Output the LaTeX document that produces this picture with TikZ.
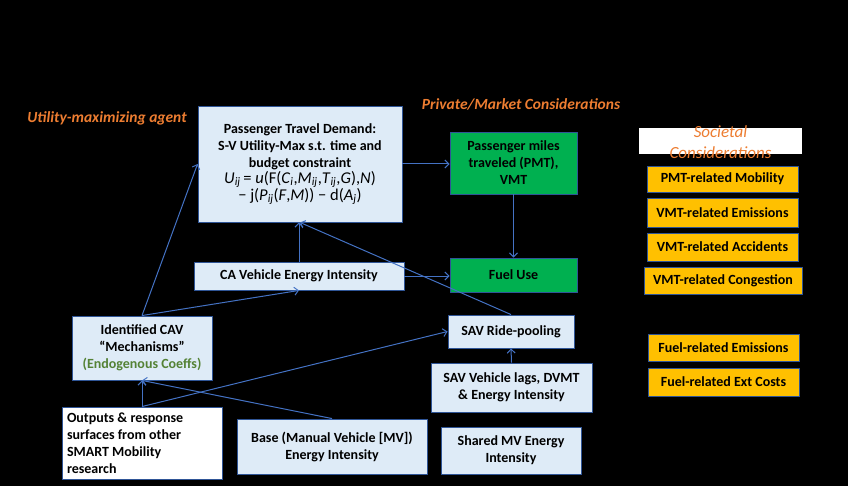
\documentclass[tikz,border=0pt]{standalone}
\usepackage{fontspec}
\setmainfont{Carlito}
\usetikzlibrary{arrows.meta}
\definecolor{bxfill}{HTML}{DEEBF7}
\definecolor{bxline}{HTML}{2F5597}
\definecolor{arr}{HTML}{4472C4}
\definecolor{grn}{HTML}{00B050}
\definecolor{org}{HTML}{FFC000}
\definecolor{otxt}{HTML}{ED7D31}
\definecolor{dgrn}{HTML}{548235}
\tikzset{
  bx/.style={draw=bxline, fill=bxfill, line width=0.9pt, inner sep=0pt, align=center,
    font=\fontsize{14}{17}\selectfont\bfseries, anchor=center},
  gbx/.style={bx, fill=grn},
  obx/.style={bx, fill=org},
  wbx/.style={bx, fill=white},
  otx/.style={text=otxt, font=\fontsize{15.5}{18}\selectfont\bfseries\itshape, inner sep=0pt},
  con/.style={draw=arr, line width=1pt, -{Straight Barb[length=4pt,width=8pt,line width=1pt]}}
}
\newcommand{\sbx}[1]{\textsubscript{\itshape #1}}
\begin{document}
\begin{tikzpicture}[x=1pt,y=-1pt]
\fill[black] (0,0) rectangle (848,486);
\useasboundingbox (0,0) rectangle (848,486);

\node[otx] (ua) at (107,118) {Utility-maximizing agent};
\node[otx] (pm) at (521,104) {Private/Market Considerations};

\node[bx, minimum width=204, minimum height=116] (ptd) at (300,164)
 {Passenger Travel Demand:\\S-V Utility-Max s.t. time and\\budget constraint\\[-1pt]
  {\fontsize{16.5}{19}\selectfont\mdseries \textit{U}\sbx{ij}\,= \textit{u}(F(\textit{C}\sbx{i},\textit{M}\sbx{ij},\textit{T}\sbx{ij},\textit{G}),\textit{N})}\\
  {\fontsize{16.5}{19}\selectfont\mdseries − j(\textit{P}\sbx{ij}(\textit{F},\textit{M})) − d(\textit{A}\sbx{j})}};

\node[gbx, minimum width=127, minimum height=62] (pmt) at (513.5,163) {Passenger miles\\traveled (PMT),\\VMT};
\node[gbx, minimum width=127, minimum height=34] (fuel) at (513.5,275) {Fuel Use};

\node[wbx, draw=none, minimum width=163, minimum height=26] (soc) at (720.5,141) {};
\node[text=otxt, font=\fontsize{17}{21}\selectfont\itshape, align=center, inner sep=0pt] (soct) at (720.5,142) {Societal\\Considerations};

\node[obx, minimum width=151, minimum height=26] (pmtm) at (722.5,179) {PMT-related Mobility};
\node[obx, minimum width=151, minimum height=29] (vmte) at (722.5,212.5) {VMT-related Emissions};
\node[obx, minimum width=151, minimum height=28] (vmta) at (722.5,247) {VMT-related Accidents};
\node[obx, minimum width=158, minimum height=27] (vmtc) at (723,280.5) {VMT-related Congestion};
\node[obx, minimum width=151, minimum height=27] (fre) at (723.5,347.5) {Fuel-related Emissions};
\node[obx, minimum width=151, minimum height=28] (frc) at (723.5,382) {Fuel-related Ext Costs};

\node[bx, minimum width=210, minimum height=28] (ca) at (299,276) {CA Vehicle Energy Intensity};
\node[bx, minimum width=140, minimum height=64] (cav) at (142,348) {Identified CAV\\``Mechanisms''\\\textcolor{dgrn}{(Endogenous Coeffs)}};
\node[wbx, minimum width=160, minimum height=72, align=left] (out) at (142,443)
 {\parbox{150pt}{\raggedright Outputs \& response\\surfaces from other\\SMART Mobility\\research}};
\node[bx, minimum width=190, minimum height=55] (base) at (332,446.5) {Base (Manual Vehicle [MV])\\Energy Intensity};
\node[bx, minimum width=126, minimum height=33] (sav) at (511,331.5) {SAV Ride-pooling};
\node[bx, minimum width=161, minimum height=49] (savl) at (511.5,387.5) {SAV Vehicle lags, DVMT\\\& Energy Intensity};
\node[bx, minimum width=140, minimum height=47] (smv) at (511,450.5) {Shared MV Energy\\Intensity};

\draw[con] (cav.north) -- (ptd.west);
\draw[con] (cav.north) -- (ca.south);
\draw[con] (ca.north) -- (ca.north |- ptd.south);
\draw[con] (ca.east) -- (ca.east -| fuel.west);
\draw[con] (ptd.east) -- (ptd.east -| pmt.west);
\draw[con] (pmt.south) -- (fuel.north);
\draw[con] (sav.north) -- (ptd.south);
\draw[con] (out.north) -- (cav.south);
\draw[con] (base.north) -- (cav.south);
\draw[con] (out.north) -- (sav.west);
\draw[con] (savl.north) -- (sav.south);
\end{tikzpicture}
\end{document}
